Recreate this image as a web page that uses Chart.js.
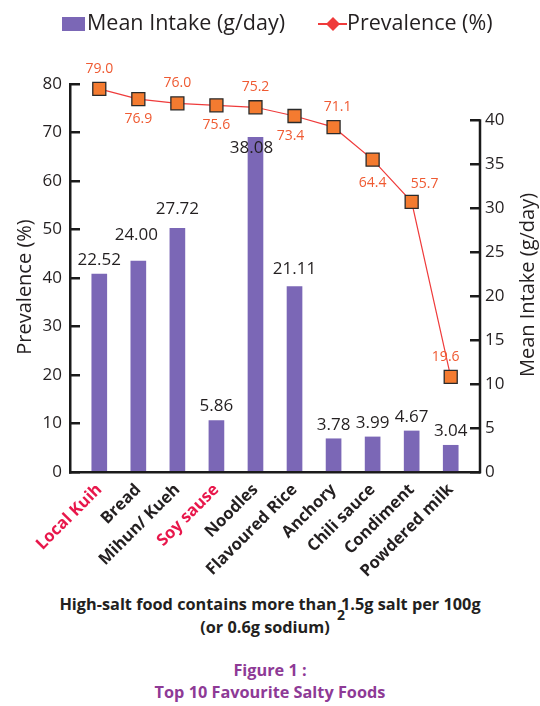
<!DOCTYPE html>
<html>
<head>
<meta charset="utf-8">
<script src="https://cdn.jsdelivr.net/npm/chart.js@4.4.1/dist/chart.umd.min.js"></script>
<style>
  html, body { margin: 0; padding: 0; background: #fff; }
  #wrap { position: relative; width: 540px; height: 706px; overflow: hidden; font-family: "Open Sans", sans-serif; }
  #box { position: absolute; left: 0; top: 0; width: 540px; height: 590px; }
  .note { position: absolute; left: 0; width: 540px; text-align: center; font-weight: 700; font-size: 16.3px; line-height: 20px; color: #231f20; white-space: nowrap; }
  .fig { color: #8e3a96; }
  #ref { position: absolute; left: 337px; top: 606px; font-weight: 700; font-size: 14px; line-height: 18px; color: #231f20; }
</style>
</head>
<body>
<div id="wrap">
  <div id="box"><canvas id="chart"></canvas></div>
  <div class="note" style="top:594px;">High-salt food contains more than 1.5g salt per 100g</div>
  <div id="ref">2</div>
  <div class="note" style="top:617px;left:-5px;">(or 0.6g sodium)</div>
  <div class="note fig" style="top:660px;">Figure 1 :</div>
  <div class="note fig" style="top:682px;">Top 10 Favourite Salty Foods</div>
</div>
<script>
// Foods and the two measured series
const foods = ['Local Kuih', 'Bread', 'Mihun/ Kueh', 'Soy sause', 'Noodles',
               'Flavoured Rice', 'Anchory', 'Chili sauce', 'Condiment', 'Powdered milk'];
const meanIntake = [22.52, 24.00, 27.72, 5.86, 38.08, 21.11, 3.78, 3.99, 4.67, 3.04];   // g/day
const prevalence = [79.0, 76.9, 76.0, 75.6, 75.2, 73.4, 71.1, 64.4, 55.7, 19.6];         // %
const highlightedFoods = ['Local Kuih', 'Soy sause'];

// Axis tick values
const prevalenceTicks = [0, 10, 20, 30, 40, 50, 60, 70, 80];
const intakeTicks = [0, 5, 10, 15, 20, 25, 30, 35, 40];

const FONT = '"Open Sans", sans-serif';
const INK = '#231f20';
const BAR = '#7b67b6';
const LINE = '#ef3b3b';
const MARK = '#f47b30';
const LABEL_ORANGE = '#ef5a32';
const RED_LABEL = '#e8174b';

// Legend at the top of the canvas
const topLegend = {
  id: 'topLegend',
  afterDraw(chart) {
    const ctx = chart.ctx;
    ctx.save();
    ctx.font = '21.5px ' + FONT;
    ctx.textBaseline = 'middle';
    ctx.textAlign = 'left';
    ctx.fillStyle = BAR;
    ctx.fillRect(62, 17, 23, 14);
    ctx.fillStyle = INK;
    ctx.fillText(chart.data.datasets[0].label, 87, 24);
    ctx.strokeStyle = LINE;
    ctx.lineWidth = 2;
    ctx.beginPath(); ctx.moveTo(318, 24); ctx.lineTo(347, 24); ctx.stroke();
    ctx.fillStyle = LINE;
    ctx.beginPath();
    ctx.moveTo(333, 17); ctx.lineTo(340, 24); ctx.lineTo(333, 31); ctx.lineTo(326, 24);
    ctx.closePath(); ctx.fill();
    ctx.fillStyle = INK;
    ctx.fillText(chart.data.datasets[1].label, 347, 24);
    ctx.restore();
  }
};

// Axis titles (both read bottom-to-top) and the right-hand spine
const axisDecor = {
  id: 'axisDecor',
  afterDraw(chart) {
    const ctx = chart.ctx;
    const area = chart.chartArea;
    const yR = chart.scales.y1;
    ctx.save();
    ctx.strokeStyle = '#1a1a1a';
    ctx.lineWidth = 2.5;
    ctx.beginPath();
    ctx.moveTo(yR.left, yR.getPixelForValue(intakeTicks[intakeTicks.length - 1]) - 1.25);
    ctx.lineTo(yR.left, area.bottom + 1.25);
    ctx.stroke();

    ctx.fillStyle = INK;
    ctx.font = '20px ' + FONT;
    ctx.textAlign = 'center';
    ctx.textBaseline = 'middle';
    ctx.translate(25, 287);
    ctx.rotate(-Math.PI / 2);
    ctx.fillText('Prevalence (%)', 0, 0);
    ctx.setTransform(1, 0, 0, 1, 0, 0);
    ctx.translate(528, 285);
    ctx.rotate(-Math.PI / 2);
    ctx.fillText('Mean Intake (g/day)', 0, 0);
    ctx.restore();
  }
};

// Value labels above bars and beside the prevalence markers
const valueLabels = {
  id: 'valueLabels',
  afterDatasetsDraw(chart, args, opts) {
    const ctx = chart.ctx;
    ctx.save();
    ctx.textAlign = 'center';
    ctx.textBaseline = 'middle';

    ctx.font = '17px ' + FONT;
    ctx.fillStyle = INK;
    chart.getDatasetMeta(0).data.forEach((bar, i) => {
      const n = opts.barNudge[i] || [0, 0];
      ctx.fillText(meanIntake[i].toFixed(2), bar.x + n[0], bar.y - opts.barGap + n[1]);
    });

    ctx.font = '14px ' + FONT;
    ctx.fillStyle = LABEL_ORANGE;
    chart.getDatasetMeta(1).data.forEach((pt, i) => {
      const n = opts.pointNudge[i] || [0, 0];
      const dy = opts.pointSide[i] === 'below' ? opts.pointGap : -opts.pointGap;
      ctx.fillText(prevalence[i].toFixed(1), pt.x + n[0], pt.y + dy + n[1]);
    });
    ctx.restore();
  }
};

const ctx = document.getElementById('chart');
new Chart(ctx, {
  type: 'bar',
  data: {
    datasets: [
      {
        type: 'bar',
        label: 'Mean Intake (g/day)',
        data: meanIntake.map((v, i) => ({ x: i, y: v })),
        yAxisID: 'y1',
        backgroundColor: BAR,
        barThickness: 15,
        order: 2
      },
      {
        type: 'line',
        label: 'Prevalence (%)',
        data: prevalence.map((v, i) => ({ x: i, y: v })),
        yAxisID: 'y',
        borderColor: LINE,
        borderWidth: 1.2,
        pointStyle: 'rect',
        pointRadius: 9.2,
        pointBackgroundColor: MARK,
        pointBorderColor: '#2a2a2a',
        pointBorderWidth: 1.3,
        tension: 0,
        clip: false,
        order: 1
      }
    ]
  },
  options: {
    responsive: true,
    maintainAspectRatio: false,
    animation: false,
    devicePixelRatio: 1,
    layout: { padding: { top: 84, left: 0, right: 0, bottom: 0 } },
    plugins: {
      legend: { display: false },
      tooltip: { enabled: false },
      valueLabels: {
        barGap: 14,
        barNudge: [[0, 0], [-2, -12], [0, -5], [0, 0], [-4, 25], [0, -3], [0, 0], [0, 0], [0, 0], [0, 0]],
        pointGap: 20,
        pointSide: ['above', 'below', 'above', 'below', 'above', 'below', 'above', 'below', 'above', 'above'],
        pointNudge: [[0, 0], [0, 0], [0, 0], [0, 0], [0, 0], [-4, 0], [4, 0], [0, 3], [13, 2], [-5, 0]]
      }
    },
    scales: {
      x: {
        type: 'linear',
        min: -0.75,
        max: 9.75,
        offset: false,
        afterBuildTicks: s => { s.ticks = foods.map((_, i) => ({ value: i })); },
        afterFit: s => { s.height = 118; },
        grid: { display: true, drawOnChartArea: false, drawTicks: false, offset: false },
        border: { display: true, color: '#1a1a1a', width: 2.5 },
        ticks: {
          autoSkip: false,
          minRotation: 45,
          maxRotation: 45,
          padding: 8,
          font: { family: FONT, size: 16.5, weight: 'bold' },
          color: c => highlightedFoods.includes(foods[c.index]) ? RED_LABEL : INK,
          callback: v => foods[v]
        }
      },
      y: {
        position: 'left',
        min: 0,
        max: 80,
        afterBuildTicks: s => { s.ticks = prevalenceTicks.map(v => ({ value: v })); },
        afterFit: s => { s.width = 70; },
        grid: { drawOnChartArea: false, drawTicks: true, tickLength: -10, color: '#1a1a1a', lineWidth: 2.5 },
        border: { display: true, color: '#1a1a1a', width: 2.5 },
        ticks: { padding: 18, font: { family: FONT, size: 17 }, color: INK }
      },
      y1: {
        position: 'right',
        min: 0,
        max: 44.15,
        afterBuildTicks: s => { s.ticks = intakeTicks.map(v => ({ value: v })); },
        afterFit: s => { s.width = 60; },
        grid: { drawOnChartArea: false, drawTicks: true, tickLength: -10, color: '#1a1a1a', lineWidth: 2.5 },
        border: { display: false },
        ticks: { padding: 15, font: { family: FONT, size: 17 }, color: INK }
      }
    }
  },
  plugins: [topLegend, axisDecor, valueLabels]
});
</script>
</body>
</html>
